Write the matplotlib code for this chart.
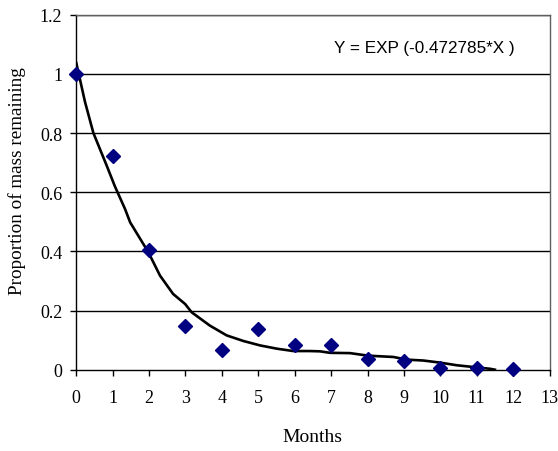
import matplotlib
matplotlib.use("Agg")
import matplotlib.pyplot as plt

months = [0, 1, 2, 3, 4, 5, 6, 7, 8, 9, 10, 11, 12]
mass_remaining = [1.0, 0.722, 0.405, 0.149, 0.065, 0.137, 0.085, 0.085, 0.035, 0.028, 0.006, 0.007, 0.001]

curve_x = [0.0, 0.24, 0.47, 0.835, 1.06, 1.34, 1.48, 1.98, 2.30, 2.66, 2.99, 3.17,
           3.67, 4.13, 4.59, 5.05, 5.51, 5.96, 6.42, 6.70, 6.97, 7.52, 7.98, 8.23, 8.71,
           9.08, 9.53, 9.99, 10.45, 10.91, 11.37, 11.5]
curve_y = [1.037, 0.905, 0.80, 0.69, 0.62, 0.543, 0.498, 0.397, 0.318, 0.256,
           0.222, 0.194, 0.149, 0.116, 0.097, 0.082, 0.071, 0.063, 0.063, 0.062, 0.057,
           0.056, 0.048, 0.046, 0.043, 0.034, 0.031, 0.024, 0.015, 0.009, 0.003, 0.0]

equation = "Y = EXP (-0.472785*X )"

fig = plt.figure(figsize=(5.58, 4.52), dpi=100)
ax = fig.add_axes([0.1367, 0.1799, 0.8481, 0.7854])

serif = ["Liberation Serif", "DejaVu Serif"]
for yv in [0.2, 0.4, 0.6, 0.8, 1.0, 1.2]:
    ax.axhline(yv, color="black", lw=1.0, zorder=1)

ax.plot(curve_x, curve_y, color="black", lw=1.9, zorder=2, solid_joinstyle="round")
ax.plot(months, mass_remaining, linestyle="none", marker="D", markersize=7,
        color="#000080", zorder=3, clip_on=False)

ax.text(9.55, 1.09, equation, ha="center", va="center", fontsize=12.3,
        family=["Liberation Sans", "DejaVu Sans"])

ax.set_xlim(0, 13)
ax.set_ylim(0, 1.2)
ax.set_xticks(range(0, 14))
ax.set_yticks([0, 0.2, 0.4, 0.6, 0.8, 1.0, 1.2])
ax.set_yticklabels(["0", "0.2", "0.4", "0.6", "0.8", "1", "1.2"])
for lab in ax.get_xticklabels() + ax.get_yticklabels():
    lab.set_fontfamily(serif)
    lab.set_fontsize(13)
ax.tick_params(direction="out", length=4, width=1, colors="black")
ax.tick_params(axis="x", pad=10)
ax.tick_params(axis="y", pad=6)

for s in ["left", "bottom"]:
    ax.spines[s].set_color("black")
    ax.spines[s].set_linewidth(1.0)
for s in ["right", "top"]:
    ax.spines[s].set_color("#606060")
    ax.spines[s].set_linewidth(1.0)

fig.text(0.56, 0.0316, "Months", fontsize=14, family=serif, ha="center", va="center")
fig.text(0.0305, 0.5985, "Proportion of mass remaining", fontsize=13.8, family=serif,
         rotation=90, ha="center", va="center")

fig.savefig("out.png", dpi=100)
